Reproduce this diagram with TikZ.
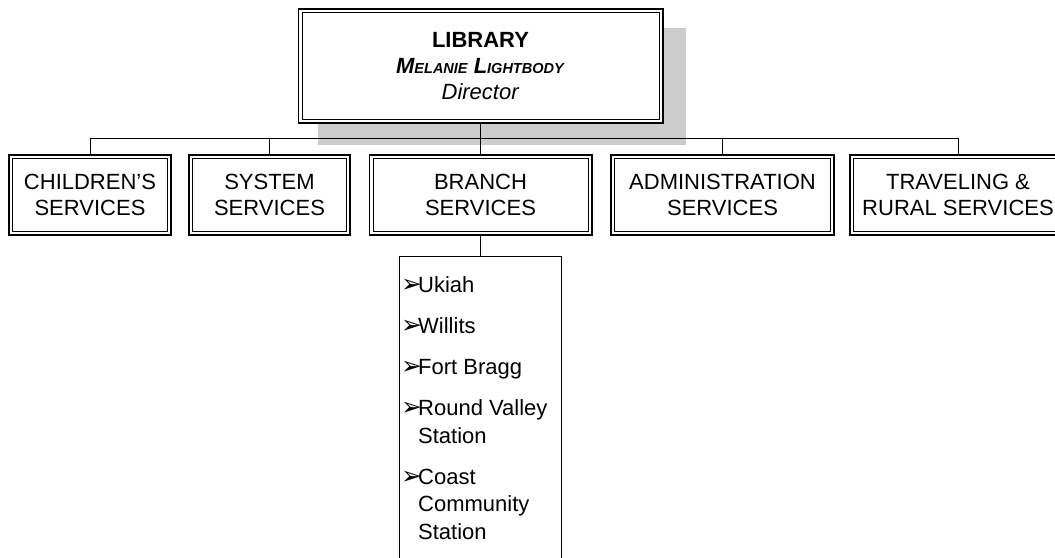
\documentclass[tikz,border=0pt]{standalone}
\usepackage{fontspec}
\setmainfont{Liberation Sans}
\newfontfamily\dingfont{DejaVu Sans}
\usetikzlibrary{backgrounds}
\newcommand{\lowcaps}[1]{{\fontsize{14.5}{26}\selectfont #1}}
\newcommand{\sitebullet}{\makebox[17pt][l]{\dingfont\fontsize{25}{16}\selectfont ➢}}
\newcommand{\sitehang}{\hspace*{17pt}}
\tikzset{
  unitbox/.style={draw, line width=1.8pt, outer sep=0.9pt,
    fill=white, align=center, inner sep=0pt, minimum height=80.2pt,
    font=\fontsize{22}{26}\selectfont,
    path picture={\draw[line width=0.9pt]
      ([shift={(3.6pt,-3.6pt)}]path picture bounding box.north west) rectangle
      ([shift={(-3.6pt,3.6pt)}]path picture bounding box.south east);}},
  link/.style={line width=1pt}
}

\begin{document}
\begin{tikzpicture}[x=1pt,y=1pt]
  \useasboundingbox (0,0) rectangle (1055,557);
  \node[unitbox, minimum width=364.2pt, minimum height=114.2pt] (library) at (480.5,491)
    {\textbf{LIBRARY}\\ \textbf{\textit{M\lowcaps{ELANIE} L\lowcaps{IGHTBODY}}}\\ \textit{Director}};
  \begin{scope}[on background layer]
    \fill[black!20] ([shift={(20pt,-20pt)}]library.north west) rectangle ([shift={(22pt,-21pt)}]library.south east);
  \end{scope}
  \node[unitbox, minimum width=162.2pt] (children) at (90,362) {CHILDREN'S\\SERVICES};
  \node[unitbox, minimum width=161.2pt] (system) at (269.5,362) {SYSTEM\\SERVICES};
  \node[unitbox, minimum width=222.2pt] (branch) at (480.5,362) {BRANCH\\SERVICES};
  \node[unitbox, minimum width=223.2pt] (admin) at (722.5,362) {ADMINISTRATION\\SERVICES};
  \node[unitbox, minimum width=216.2pt] (traveling) at (958,362) {TRAVELING \&\\RURAL SERVICES};
  \coordinate (bus) at (480.5,418);
  \draw[link, line width=1.4pt] (library.south) -- (branch.north);
  \foreach \unit in {children,system,admin,traveling}
    \draw[link] (\unit.north) |- (bus);
  \node[draw, line width=1pt, minimum width=162pt, minimum height=320pt, anchor=north, inner sep=0pt] (branchlist) at (480.5,300.5) {};
  \draw[link] (branch.south) -- (branchlist.north);
  \node[anchor=north west, align=left, inner sep=0pt, font=\fontsize{22}{27.5}\selectfont] (sites)
    at ([shift={(2pt,-20pt)}]branchlist.north west)
    {\sitebullet Ukiah\\[13.5pt] \sitebullet Willits\\[13.5pt] \sitebullet Fort Bragg\\[13.5pt]
     \sitebullet Round Valley\\ \sitehang Station\\[13.5pt]
     \sitebullet Coast\\ \sitehang Community\\ \sitehang Station};
\end{tikzpicture}
\end{document}
